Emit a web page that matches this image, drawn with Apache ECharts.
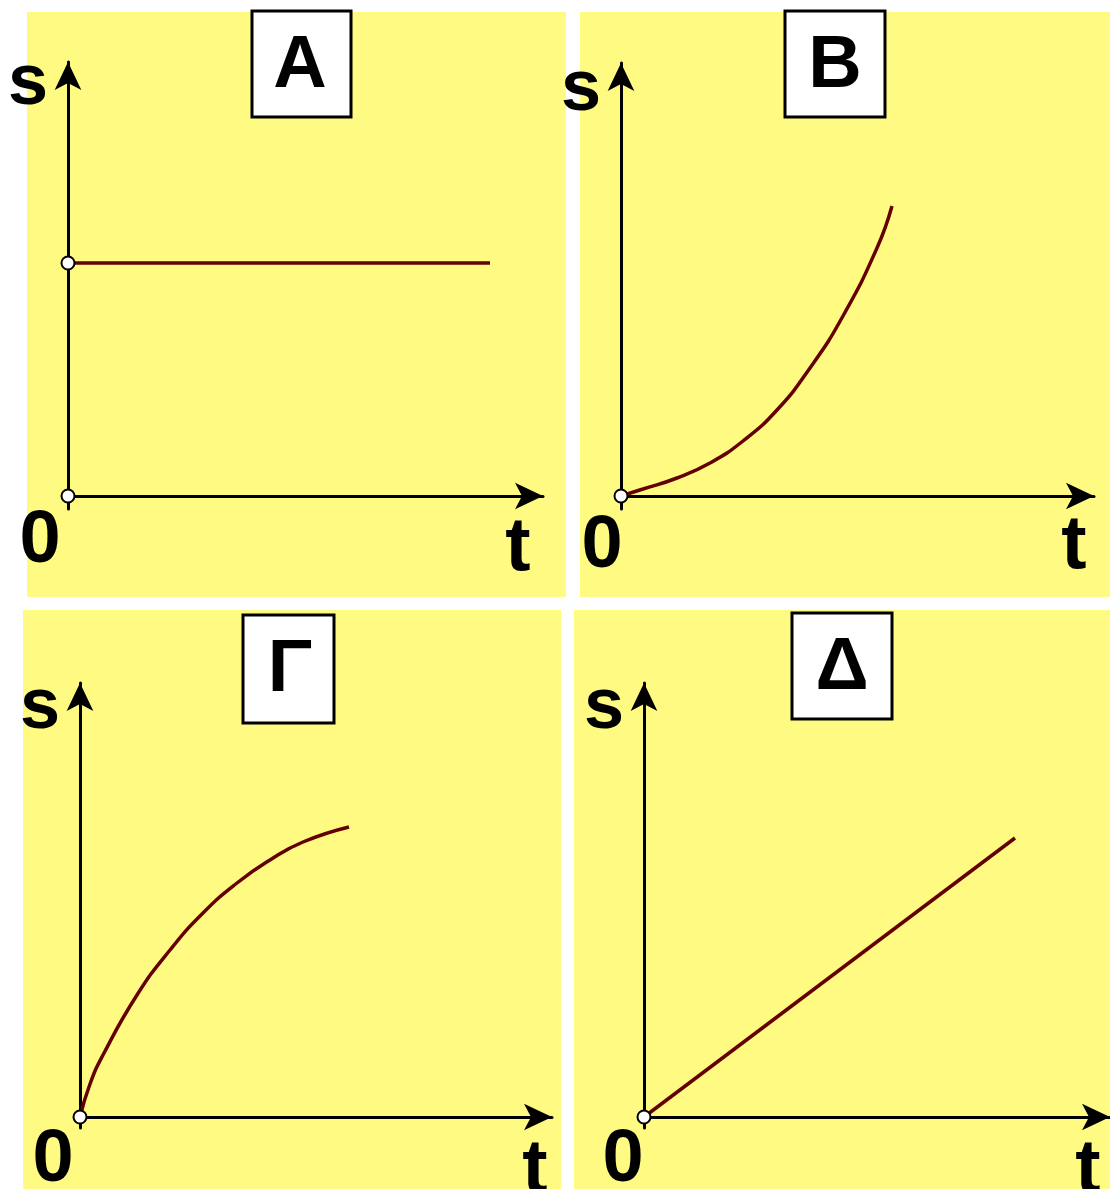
<!DOCTYPE html>
<html>
<head>
<meta charset="utf-8">
<script src="https://cdn.jsdelivr.net/npm/echarts@6/dist/echarts.min.js"></script>
<style>
html,body{margin:0;padding:0;background:#fff;}
#chart{width:1110px;height:1189px;}
</style>
</head>
<body>
<div id="chart"></div>
<script>
// ---- data (time t, distance s) for each panel ----
const panelTitles = ['Α', 'Β', 'Γ', 'Δ'];
const sLabel = 's';
const tLabel = 't';
const originLabel = '0';

const tA = [0, 422];
const sA = [233, 233];

const tB = [0, 22, 56, 89, 122, 156, 189, 222, 256, 271];
const sB = [0, 7, 18, 33, 55, 86, 128, 180, 248, 290];

const tG = [0, 10, 23, 57, 90, 123, 157, 190, 223, 269];
const sG = [0, 33, 62, 122, 167, 204, 234, 257, 275, 290];

const tD = [0, 371];
const sD = [0, 279];

// open circles marking points on the s axis
const markA = [[0, 0], [0, 233]];
const markB = [[0, 0]];
const markG = [[0, 0]];
const markD = [[0, 0]];

// ---- layout ----
const panels = [
  {bg: [27, 12, 539, 585], box: [252, 11, 99, 106], letter: [300, 67], grid: {left: 68, top: 62, width: 475, height: 447}, x: [0, 475], y: [-13, 434],
   s: [28, 84], o: [40, 542], t: [518, 549], t_: tA, s_: sA, marks: markA, smooth: false},
  {bg: [580, 12, 530, 585], box: [785, 11, 100, 106], letter: [835, 67], grid: {left: 621, top: 63, width: 473, height: 446}, x: [0, 473], y: [-13, 433],
   s: [581, 90], o: [602, 547], t: [1074, 547], t_: tB, s_: sB, marks: markB, smooth: true},
  {bg: [23, 610, 538, 579], box: [243, 615, 91, 108], letter: [290, 671], grid: {left: 80, top: 683, width: 472, height: 445}, x: [0, 472], y: [-11, 434],
   s: [40, 708], o: [53, 1161], t: [535, 1171], t_: tG, s_: sG, marks: markG, smooth: true},
  {bg: [574, 610, 536, 579], box: [792, 613, 100, 106], letter: [842, 669], grid: {left: 644, top: 683, width: 466, height: 445}, x: [0, 466], y: [-11, 434],
   s: [604, 708], o: [623, 1161], t: [1088, 1171], t_: tD, s_: sD, marks: markD, smooth: false}
];

const lineColor = '#650000';
const yellow = '#fffa82';
const font = '"Liberation Sans", Arial, sans-serif';

const axisLine = {
  show: true, onZero: true,
  symbol: ['none', 'arrow'], symbolSize: [20, 28],
  lineStyle: {color: '#000', width: 3}
};

const grids = [], xAxes = [], yAxes = [], series = [], graphics = [];
panels.forEach((p, i) => {
  grids.push(Object.assign({containLabel: false}, p.grid));
  xAxes.push({type: 'value', gridIndex: i, min: p.x[0], max: p.x[1],
    axisLine: axisLine, axisTick: {show: false}, axisLabel: {show: false}, splitLine: {show: false}});
  yAxes.push({type: 'value', gridIndex: i, min: p.y[0], max: p.y[1],
    axisLine: axisLine, axisTick: {show: false}, axisLabel: {show: false}, splitLine: {show: false}});
  series.push({
    type: 'line', xAxisIndex: i, yAxisIndex: i,
    data: p.t_.map((t, k) => [t, p.s_[k]]),
    smooth: p.smooth ? 0.5 : false, showSymbol: false, symbol: 'none',
    lineStyle: {color: lineColor, width: 3.5}, z: 3
  });
  series.push({
    type: 'scatter', xAxisIndex: i, yAxisIndex: i, data: p.marks,
    symbol: 'circle', symbolSize: 13,
    itemStyle: {color: '#fff', borderColor: '#000', borderWidth: 2, opacity: 1}, z: 5
  });
  graphics.push({type: 'rect', z: -10, silent: true,
    shape: {x: p.bg[0], y: p.bg[1], width: p.bg[2], height: p.bg[3]}, style: {fill: yellow}});
  graphics.push({type: 'rect', z: 10, silent: true,
    shape: {x: p.box[0], y: p.box[1], width: p.box[2], height: p.box[3]},
    style: {fill: '#fff', stroke: '#000', lineWidth: 3}});
  graphics.push({type: 'text', z: 11, silent: true, x: p.letter[0], y: p.letter[1],
    style: {text: panelTitles[i], fill: '#000', font: 'bold 74px ' + font, textAlign: 'center', textVerticalAlign: 'middle'}});
  graphics.push({type: 'text', z: 11, silent: true, x: p.s[0], y: p.s[1],
    style: {text: sLabel, fill: '#000', font: 'bold 72px ' + font, textAlign: 'center', textVerticalAlign: 'middle'}});
  graphics.push({type: 'text', z: 11, silent: true, x: p.o[0], y: p.o[1],
    style: {text: originLabel, fill: '#000', font: 'bold 74px ' + font, textAlign: 'center', textVerticalAlign: 'middle'}});
  graphics.push({type: 'text', z: 11, silent: true, x: p.t[0], y: p.t[1],
    style: {text: tLabel, fill: '#000', font: 'bold 76px ' + font, textAlign: 'center', textVerticalAlign: 'middle'}});
});

const chart = echarts.init(document.getElementById('chart'), null, {renderer: 'canvas'});
chart.setOption({
  animation: false,
  backgroundColor: '#fff',
  grid: grids,
  xAxis: xAxes,
  yAxis: yAxes,
  series: series,
  graphic: graphics
});
</script>
</body>
</html>
